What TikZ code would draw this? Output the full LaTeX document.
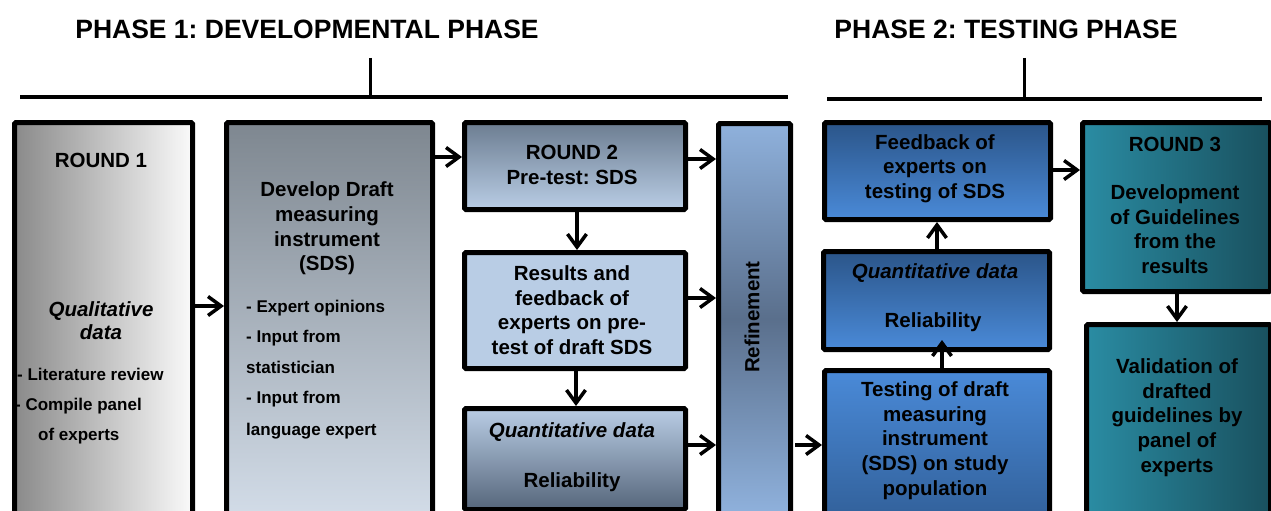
\documentclass[tikz,border=0pt]{standalone}
\usepackage{fontspec}
\setmainfont{Liberation Sans}
\usetikzlibrary{arrows.meta}
\frenchspacing
\definecolor{gA}{HTML}{8A8A8A}
\definecolor{gB}{HTML}{FAFAFA}
\definecolor{dTop}{HTML}{7E8790}
\definecolor{dBot}{HTML}{DCE6F2}
\definecolor{rTop}{HTML}{6C7D91}
\definecolor{lBlue}{HTML}{B9CDE5}
\definecolor{sDark}{HTML}{56667B}
\definecolor{refL}{HTML}{8FB1DC}
\definecolor{refD}{HTML}{5A6F8C}
\definecolor{bDark}{HTML}{2B5589}
\definecolor{bLight}{HTML}{4A8AD8}
\definecolor{tL}{HTML}{2A8CA3}
\definecolor{tR}{HTML}{19505E}
\tikzset{
  box/.style={draw=black, line width=5pt, rounded corners=1.5pt, inner sep=0pt, anchor=north west},
  arr/.style={line width=3.5pt, -{Straight Barb[length=13pt,width=19pt,line width=3.5pt]}},
  txt/.style={font=\bfseries\fontsize{20.5}{24.6}\selectfont, align=center, inner sep=0pt},
  itx/.style={font=\bfseries\itshape\fontsize{20.5}{23}\selectfont, align=center, inner sep=0pt},
  sml/.style={font=\bfseries\fontsize{17}{20}\selectfont, inner sep=0pt, anchor=base west},
  hdr/.style={font=\bfseries\fontsize{26.5}{30}\selectfont, inner sep=0pt},
  bar/.style={line width=4pt},
}
\begin{document}
\begin{tikzpicture}[x=1pt,y=-1pt]
\useasboundingbox (0,0) rectangle (1271,511);
\clip (0,0) rectangle (1271,511);
\fill[white] (0,0) rectangle (1271,511);
% headers
\node[hdr] (h1) at (307,29) {PHASE 1: DEVELOPMENTAL PHASE};
\node[hdr] (h2) at (1006,29) {PHASE 2: TESTING PHASE};
\draw[bar] (20,97) -- (788,97);
\draw[line width=3pt] (370,58) -- (370,97);
\draw[bar] (827,99) -- (1262,99);
\draw[line width=3pt] (1024,58) -- (1024,99);
% boxes
\node[box, left color=gA, right color=gB, minimum width=178pt, minimum height=440pt] (b1) at (12,120) {};
\node[box, top color=dTop, bottom color=dBot, minimum width=206pt, minimum height=440pt] (b2) at (224,120) {};
\node[box, top color=rTop, bottom color=lBlue, minimum width=221pt, minimum height=87pt] (b3) at (462,120) {};
\node[box, fill=lBlue, minimum width=221pt, minimum height=116pt] (b4) at (462,250) {};
\node[box, top color=lBlue, bottom color=sDark, minimum width=221pt, minimum height=101pt] (b5) at (462,406) {};
\node[box, top color=refL, bottom color=refL, middle color=refD, minimum width=72pt, minimum height=390pt] (rf) at (716,121) {};
\node[box, top color=bDark, bottom color=bLight, minimum width=226pt, minimum height=97pt] (fb) at (822,120) {};
\node[box, top color=bDark, bottom color=bLight, minimum width=226pt, minimum height=98pt] (q2) at (821,249) {};
\node[box, top color=bLight, bottom color=bDark, minimum width=225pt, minimum height=190pt] (ts) at (822,368) {};
\node[box, left color=tL, right color=tR, minimum width=188pt, minimum height=169pt] (r3) at (1080,120) {};
\node[box, left color=tL, right color=tR, minimum width=184pt, minimum height=240pt] (vl) at (1084,322) {};
% texts
\node[txt] (t1a) at (101,160) {ROUND 1};
\node[itx] (t1b) at (101,320.5) {Qualitative\\data};
\node[sml] (t1c) at (17,380) {- Literature review};
\node[sml] (t1d) at (15,410) {- Compile panel};
\node[sml] (t1e) at (38,440) {of experts};
\node[txt] (t2a) at (327,228.5) {Develop Draft\\measuring\\instrument\\(SDS)};
\node[sml] (t2b) at (246,312) {- Expert opinions};
\node[sml] (t2c) at (246,342) {- Input from};
\node[sml] (t2d) at (246,373) {statistician};
\node[sml] (t2e) at (246,403) {- Input from};
\node[sml] (t2f) at (246,435) {language expert};
\node[txt] (t3) at (572,165) {ROUND 2\\Pre-test: SDS};
\node[txt] (t4) at (572,310) {Results and\\feedback of\\experts on pre-\\test of draft SDS};
\node[itx] (t5a) at (572,432) {Quantitative data};
\node[txt] (t5b) at (572,482) {Reliability};
\node[txt, rotate=90] (tr) at (752,317) {Refinement};
\node[txt] (t6) at (935,168.5) {Feedback of\\experts on\\testing of SDS};
\node[itx] (t7a) at (935,273) {Quantitative data};
\node[txt] (t7b) at (933,322) {Reliability};
\node[txt] (t8) at (935,440.5) {Testing of draft\\measuring\\instrument\\(SDS) on study\\population};
\node[txt] (t9a) at (1175,144) {ROUND 3};
\node[txt] (t9b) at (1175,229) {Development\\of Guidelines\\from the\\results};
\node[txt] (t10) at (1177,417.5) {Validation of\\drafted\\guidelines by\\panel of\\experts};
% arrows
\draw[arr] (b1.east |- 0,306) -- (b2.west |- 0,306);
\draw[arr] (b2.east |- 0,157) -- (b3.west |- 0,157);
\draw[arr] (b3.east |- 0,159) -- (rf.west |- 0,159);
\draw[arr] (b4.east |- 0,298) -- (rf.west |- 0,298);
\draw[arr] (b5.east |- 0,445) -- (rf.west |- 0,445);
\draw[arr, shorten <=2pt] (rf.east |- 0,445) -- (ts.west |- 0,445);
\draw[arr] (b3.south -| 577,0) -- (b4.north -| 577,0);
\draw[arr] (b4.south -| 576,0) -- (b5.north -| 576,0);
\draw[arr, shorten >=-12pt] (ts.north -| 942,0) -- (q2.south -| 942,0);
\draw[arr] (q2.north -| 937,0) -- (fb.south -| 937,0);
\draw[arr] (fb.east |- 0,170) -- (r3.west |- 0,170);
\draw[arr] (r3.south -| 1177,0) -- (vl.north -| 1177,0);
\end{tikzpicture}
\end{document}
